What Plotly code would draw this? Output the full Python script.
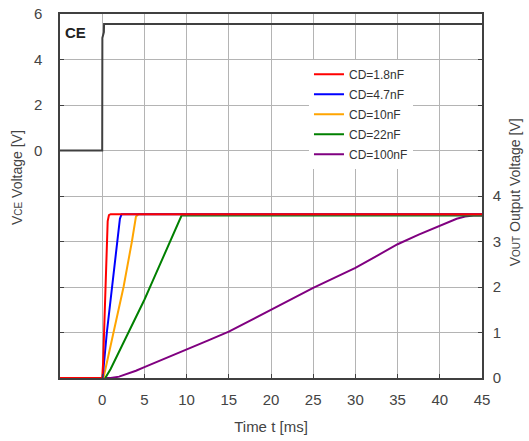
import plotly.graph_objects as go

# ---- data ----
vce_t = [-5, 0, 0.02, 0.2, 0.22, 45]
vce_v = [0, 0, 4.95, 5.2, 5.56, 5.56]

red_t = [-5, 0, 0.1, 0.3, 0.5, 0.65, 0.8, 1.0, 45]
red_v = [0, 0, 0.3, 1.5, 2.8, 3.45, 3.58, 3.6, 3.6]

blue_t = [-5, 0.05, 0.55, 1.15, 1.74, 2.1, 2.3, 45]
blue_v = [0, 0, 1.0, 2.0, 3.0, 3.5, 3.6, 3.6]

orange_t = [-5, 0.15, 1.34, 2.53, 3.52, 4.0, 4.3, 45]
orange_v = [0, 0, 1.0, 2.0, 3.0, 3.55, 3.6, 3.6]

green_t = [-5, 0.36, 1, 2, 3, 4, 5, 6, 7, 8, 9, 9.4, 45]
green_v = [0, 0, 0.2, 0.58, 0.98, 1.35, 1.72, 2.14, 2.56, 2.98, 3.4, 3.57, 3.57]

purple_t = [-5, 1, 2, 3, 4, 5, 7.5, 10, 12.5, 15, 17.5, 20, 22.5, 25, 27.5, 30,
            32.5, 35, 37.5, 40, 41, 42, 43, 44, 45]
purple_v = [0, 0, 0.03, 0.09, 0.16, 0.24, 0.43, 0.62, 0.82, 1.02, 1.26, 1.5, 1.74,
            1.98, 2.2, 2.42, 2.68, 2.94, 3.15, 3.34, 3.42, 3.5, 3.55, 3.57, 3.57]

series_names = ["CD=1.8nF", "CD=4.7nF", "CD=10nF", "CD=22nF", "CD=100nF"]
series_colors = ["#ff0000", "#0000ff", "#ffa500", "#008000", "#800080"]

x_ticks = [0, 5, 10, 15, 20, 25, 30, 35, 40, 45]
vce_grid = [-10, -8, -6, -4, -2, 0, 2, 4, 6]
vce_labels = ["", "", "", "", "", "0", "2", "4", "6"]
vout_grid = [0, 1, 2, 3, 4, 5, 6, 7, 8]
vout_labels = ["0", "1", "2", "3", "4", "", "", "", ""]

FONT = "Liberation Sans, Arial, sans-serif"
TXT = "#444444"
AX = "#404040"
GRID = "#b4b4b4"

fig = go.Figure()

fig.add_trace(go.Scatter(x=vce_t, y=vce_v, mode="lines", yaxis="y",
                         line=dict(color="#404040", width=2), showlegend=False))

series = [(red_t, red_v), (blue_t, blue_v), (orange_t, orange_v),
          (green_t, green_v), (purple_t, purple_v)]
draw_order = [4, 3, 2, 1, 0]
for i in draw_order:
    t, v = series[i]
    fig.add_trace(go.Scatter(x=t, y=v, mode="lines", yaxis="y2",
                             name=series_names[i], legendrank=i + 1,
                             legendgroup="g%d" % i,
                             line=dict(color=series_colors[i], width=2)))

fig.update_layout(
    width=529, height=441,
    margin=dict(l=60, r=47, t=14, b=63, autoexpand=False),
    paper_bgcolor="white", plot_bgcolor="white",
    font=dict(family=FONT, size=15, color=TXT),
    xaxis=dict(range=[-5, 45], tickvals=x_ticks, ticks="inside", ticklen=4,
               tickcolor=AX, showgrid=True, gridcolor=GRID, gridwidth=1,
               showline=True, linecolor=AX, linewidth=1.5, mirror=True,
               zeroline=False, ticklabelstandoff=7, automargin=False,
               ticklabeloverflow="allow",
               title=dict(text="Time t [ms]", standoff=15,
                          font=dict(size=15, color=TXT))),
    yaxis=dict(range=[-10, 6], tickvals=vce_grid, ticktext=vce_labels,
               ticks="inside", ticklen=4, tickcolor=AX,
               showgrid=True, gridcolor=GRID, gridwidth=1,
               showline=True, linecolor=AX, linewidth=1.5, mirror=True,
               zeroline=False, ticklabelstandoff=13, automargin=False,
               ticklabeloverflow="allow"),
    yaxis2=dict(range=[0, 8], tickvals=vout_grid, ticktext=vout_labels,
                overlaying="y", side="right", ticks="inside", ticklen=4,
                tickcolor=AX, showgrid=False, showline=True, linecolor=AX,
                linewidth=1.5, zeroline=False, ticklabelstandoff=6,
                automargin=False, ticklabeloverflow="allow"),
    legend=dict(x=0.590, y=0.874, xanchor="left", yanchor="top",
                bgcolor="white", borderwidth=0, tracegroupgap=1,
                font=dict(family=FONT, size=12, color="#333333")),
    annotations=[
        dict(text="<b>CE</b>", xref="paper", yref="paper", x=0.007, y=0.979,
             xanchor="left", yanchor="top", showarrow=False,
             font=dict(family=FONT, size=15, color="#222222")),
        dict(text="V<span style='font-size:10px'>CE</span> Voltage [V]",
             xref="paper", yref="paper", x=-0.102, y=0.552,
             xanchor="center", yanchor="middle", textangle=-90,
             showarrow=False, font=dict(family=FONT, size=14, color=TXT)),
        dict(text="V<span style='font-size:10px'>OUT</span> Output Voltage [V]",
             xref="paper", yref="paper", x=1.079, y=0.511,
             xanchor="center", yanchor="middle", textangle=-90,
             showarrow=False, font=dict(family=FONT, size=14, color=TXT)),
    ],
)

fig.write_html("out.html", config={"displayModeBar": False},
               post_script="document.body.style.margin='0';")
